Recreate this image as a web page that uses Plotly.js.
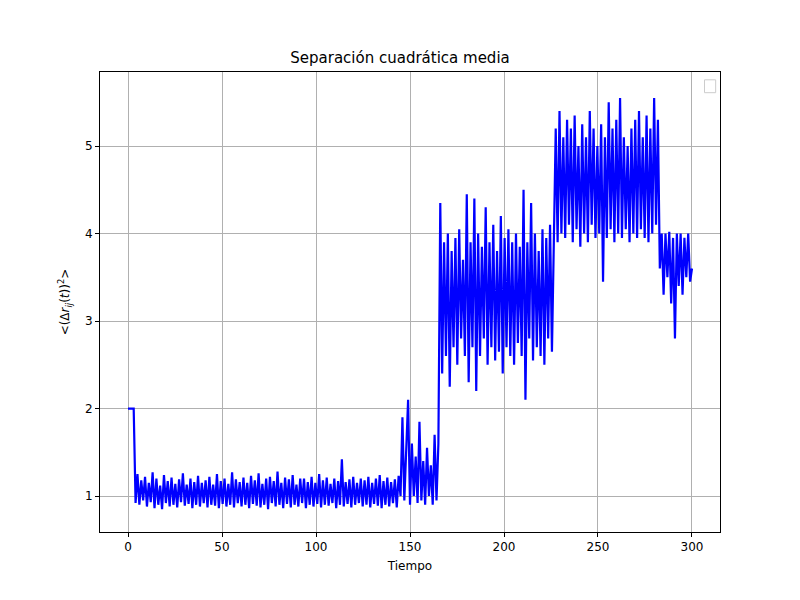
<!DOCTYPE html>
<html>
<head>
<meta charset="utf-8">
<script src="https://cdn.plot.ly/plotly-3.0.1.min.js"></script>
</head>
<body style="margin:0">
<div id="graphDiv"></div>
<script>
// values, one sample per time unit
var start = [2, 2, 2, 2];
var calm = [0.92,1.25,0.9,1.18,0.95,1.22,0.88,1.15,0.93,1.27,0.86,1.2,0.9,1.12,0.85,1.24,0.92,1.17,0.88,1.21,
  0.9,1.14,0.87,1.19,0.93,1.26,0.89,1.13,0.91,1.2,0.86,1.16,0.9,1.23,0.88,1.15,0.92,1.18,0.87,1.22,
  0.9,1.13,0.89,1.25,0.86,1.17,0.91,1.2,0.88,1.14,0.9,1.27,0.87,1.19,0.92,1.16,0.88,1.21,0.9,1.15,
  0.86,1.23,0.91,1.18,0.89,1.26,0.87,1.14,0.9,1.2,0.85,1.22,0.92,1.17,0.88,1.28,0.9,1.15,0.86,1.21,
  0.91,1.19,0.87,1.24,0.9,1.13,0.88,1.2,0.92,1.2,0.86,1.16,0.9,1.22,0.88,1.15,0.91,1.25,0.87,1.18,
  0.9,1.21,0.89,1.14,0.92,1.2,0.86,1.17,0.9,1.42,0.88,1.16,0.91,1.19,0.87,1.22,0.9,1.15,0.92,1.2,
  0.88,1.18,0.9,1.22,0.87,1.15,0.91,1.2,0.89,1.24,0.86,1.17,0.9,1.21,0.88,1.16,0.92,1.19,0.87,1.23];
var rise = [1.0,1.9,0.95,1.5,2.1,0.9,1.6,1.0,1.45,0.92,1.85,0.95,1.4,0.9,1.55,1.0,1.35,0.9,1.7,0.95,1.6];
var mid = [4.35,2.4,3.9,2.6,4.0,2.25,3.8,2.7,3.95,2.5,4.05,2.8,3.7,2.6,4.45,2.3,3.9,2.7,4.4,2.2,
  4.0,2.6,3.85,2.8,4.3,2.5,3.9,2.7,4.1,2.55,3.8,2.65,4.2,2.4,3.95,2.7,4.05,2.6,3.9,2.5,
  4.0,2.75,3.85,2.6,4.5,2.1,3.9,2.8,4.35,2.55,4.0,2.7,3.8,2.6,4.05,2.5,3.95,2.8,4.1,2.65,3.9];
var high = [5.2,3.9,5.4,4.0,5.1,3.95,5.3,4.1,5.2,3.9,5.35,4.05,5.0,3.85,5.25,4.0,5.1,3.9,5.4,4.1,
  5.2,3.95,5.0,4.0,5.25,3.45,5.1,3.95,5.5,4.05,5.2,3.9,5.3,4.0,5.55,3.95,5.1,4.05,5.0,3.9,
  5.2,4.0,5.3,3.95,5.4,4.05,5.1,3.95,5.35,3.9,5.2,4.0,5.55,4.1,5.3];
var tail = [3.6,4.0,3.3,4.0,3.5,4.02,3.2,3.95,2.8,4.0,3.4,4.0,3.3,3.95,3.5,4.0,3.45,3.6];

var y = start.concat(calm, rise, mid, high, tail);
var x = y.map(function(v, i) { return i * 300 / (y.length - 1); });

var trace1 = {
  x: x, y: y,
  mode: 'lines',
  line: {color: 'blue', width: 2.2},
  type: 'scatter',
  showlegend: false
};

var ax = {
  showline: true, linecolor: 'black', linewidth: 1, mirror: true,
  ticks: 'outside', ticklen: 4, tickcolor: 'black',
  showgrid: true, gridcolor: '#b0b0b0', gridwidth: 1, zeroline: false,
  tickfont: {family: 'DejaVu Sans', size: 12, color: 'black'}
};

var layout = {
  width: 800, height: 600,
  margin: {l: 100, r: 80, t: 72, b: 68},
  paper_bgcolor: 'white', plot_bgcolor: 'white',
  font: {family: 'DejaVu Sans', color: 'black'},
  title: {text: 'Separación cuadrática media', font: {size: 15}, y: 0.903, yanchor: 'middle'},
  xaxis: Object.assign({}, ax, {range: [-14.9, 314.9], tickvals: [0,50,100,150,200,250,300],
    title: {text: 'Tiempo', font: {size: 12}, standoff: 8}}),
  yaxis: Object.assign({}, ax, {range: [0.589, 5.846], tickvals: [1,2,3,4,5],
    title: {text: '<(Δ<i>r</i><sub><i>ij</i></sub>(<i>t</i>))<sup>2</sup>>', font: {size: 12}, standoff: 12}}),
  shapes: [{type: 'rect', xref: 'paper', yref: 'paper', x0: 0.975, x1: 0.993, y0: 0.955, y1: 0.983,
    line: {color: '#cccccc', width: 1}, fillcolor: 'white'}]
};

Plotly.newPlot('graphDiv', [trace1], layout, {displayModeBar: false});
</script>
</body>
</html>
